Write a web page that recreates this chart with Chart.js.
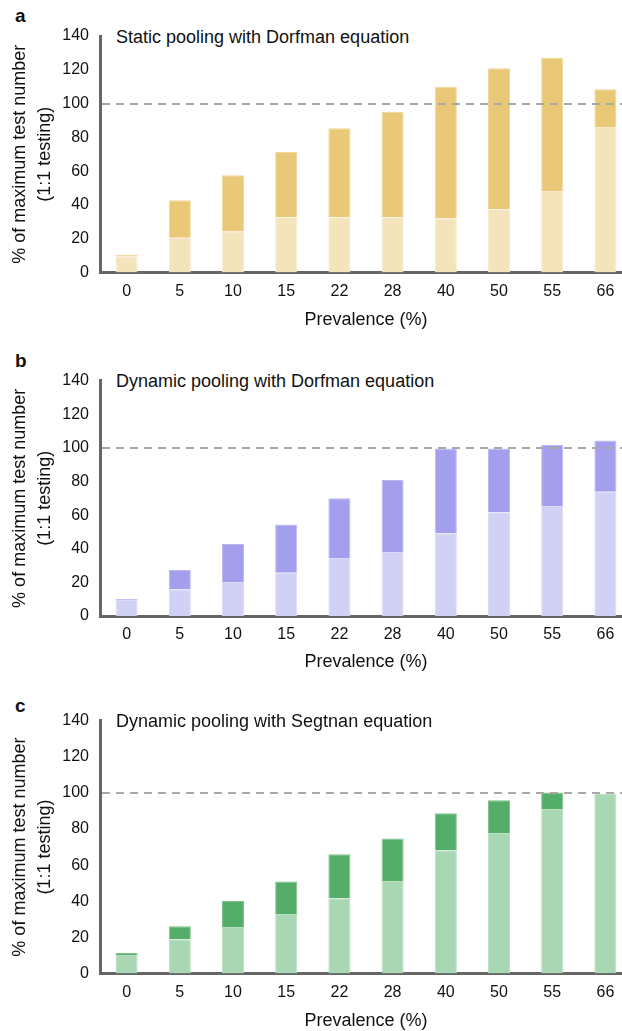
<!DOCTYPE html>
<html>
<head>
<meta charset="utf-8">
<script src="https://cdn.jsdelivr.net/npm/chart.js@4"></script>
<style>
  html, body { margin:0; padding:0; background:#fff; width:622px; height:1031px; overflow:hidden; }
  canvas { position:absolute; left:0; }
  .letter { position:absolute; left:15px; font:bold 19px 'Liberation Sans', Arial, sans-serif; line-height:19px; color:#111; }
  .ptitle { position:absolute; left:116px; font:18px 'Liberation Sans', Arial, sans-serif; line-height:18px; color:#111; white-space:nowrap; }
</style>
</head>
<body>
<div class="letter" style="top:6px">a</div>
<div class="ptitle" style="top:28px">Static pooling with Dorfman equation</div>
<canvas id="chart-a" width="632" height="340" style="top:0"></canvas>

<div class="letter" style="top:351px">b</div>
<div class="ptitle" style="top:372px">Dynamic pooling with Dorfman equation</div>
<canvas id="chart-b" width="632" height="342" style="top:340px"></canvas>

<div class="letter" style="top:696px">c</div>
<div class="ptitle" style="top:712px">Dynamic pooling with Segtnan equation</div>
<canvas id="chart-c" width="632" height="361" style="top:680px"></canvas>

<script>
/* ── Data ── */
const prevalence   = ['0', '5', '10', '15', '22', '28', '40', '50', '55', '66'];
const yTicks       = [0, 20, 40, 60, 80, 100, 120, 140];
const refLevel     = 100;   // 1:1 testing

// static pooling, Dorfman
const staticBase   = [9.5, 20.5, 24.3, 32.7, 32.7, 32.7, 32.0, 37.5, 48.3, 86.2];
const staticTotal  = [10.3, 42.8, 57.6, 71.4, 85.4, 95.2, 110.0, 120.9, 127.0, 108.5];
// dynamic pooling, Dorfman
const dynBase      = [9.5, 15.7, 20.2, 25.8, 34.5, 38.1, 49.2, 61.7, 65.5, 74.0];
const dynTotal     = [10.1, 27.4, 42.8, 54.5, 70.0, 80.9, 99.6, 99.6, 101.8, 104.4];
// dynamic pooling, Segtnan
const segBase      = [10.3, 19.0, 25.7, 32.9, 41.7, 51.2, 68.3, 77.8, 91.1, 99.5];
const segTotal     = [11.3, 26.2, 40.1, 51.0, 66.1, 74.8, 88.7, 95.9, 100.3, 99.5];

Chart.defaults.font.family = "'Liberation Sans', Arial, sans-serif";
Chart.defaults.color = '#111';

/* ── dashed 100% line, drawn over the bars ── */
const refLine = {
  id: 'refLine',
  afterDatasetsDraw(chart) {
    const { ctx, chartArea, scales } = chart;
    const y = Math.round(scales.y.getPixelForValue(refLevel));
    ctx.save();
    ctx.strokeStyle = '#a8a8a8';
    ctx.lineWidth = 2;
    ctx.setLineDash([8, 6]);
    ctx.beginPath();
    ctx.moveTo(chartArea.left + 2, y);
    ctx.lineTo(chartArea.right, y);
    ctx.stroke();
    ctx.restore();
  }
};

function makePanel(id, base, total, col, lay) {
  const extra = total.map((t, i) => Math.max(0, +(t - base[i]).toFixed(2)));
  return new Chart(document.getElementById(id), {
    type: 'bar',
    data: {
      labels: prevalence,
      datasets: [
        { data: base,  backgroundColor: col.light, borderColor: col.lightEdge, borderWidth: 1, borderSkipped: 'start' },
        { data: extra, backgroundColor: col.dark,  borderColor: col.darkEdge,  borderWidth: 1, borderSkipped: 'start' }
      ]
    },
    options: {
      responsive: false,
      animation: false,
      events: [],
      layout: { padding: { top: lay.top, left: 0, right: 0, bottom: 0 } },
      datasets: { bar: { barPercentage: 0.415, categoryPercentage: 1 } },
      plugins: { legend: { display: false }, tooltip: { enabled: false } },
      scales: {
        x: {
          stacked: true,
          grid: { display: false, drawTicks: false },
          border: { display: true, color: '#666', width: 3 },
          ticks: { font: { size: 16 }, padding: 9, maxRotation: 0, color: '#111' },
          title: { display: true, text: 'Prevalence (%)', font: { size: 18 }, color: '#111',
                   padding: { top: 0, bottom: lay.xTitlePad } },
          afterFit: s => { s.height = lay.xAxisH; }
        },
        y: {
          stacked: true,
          min: 0, max: 140,
          afterBuildTicks: s => { s.ticks = yTicks.map(v => ({ value: v })); },
          grid: { display: false, drawTicks: false },
          border: { display: true, color: '#666', width: 3 },
          ticks: { font: { size: 16 }, padding: 11, color: '#111' },
          title: { display: true, text: ['% of maximum test number', '(1:1 testing)'],
                   font: { size: 18, lineHeight: 25 / 18 }, color: '#111',
                   padding: { top: 7.5, bottom: 0 } },
          afterFit: s => { s.width = 100; }
        }
      }
    },
    plugins: [refLine]
  });
}

const gold   = { light: '#f4e4bb', lightEdge: '#f7ebcd', dark: '#e9c877', darkEdge: '#f0d79c' };
const violet = { light: '#d1d0f5', lightEdge: '#dcdbf8', dark: '#a39fec', darkEdge: '#bcb9f2' };
const green  = { light: '#a9d7b3', lightEdge: '#b9dfc1', dark: '#54ae6a', darkEdge: '#7fc28d' };

document.addEventListener('DOMContentLoaded', () => {
  makePanel('chart-a', staticBase, staticTotal, gold,   { top: 36,   xAxisH: 67.5, xTitlePad: 9.2 });
  makePanel('chart-b', dynBase,    dynTotal,    violet, { top: 40.7, xAxisH: 66,   xTitlePad: 9.5 });
  makePanel('chart-c', segBase,    segTotal,    green,  { top: 40.7, xAxisH: 67.5, xTitlePad: 9.5 });
});
</script>
</body>
</html>
